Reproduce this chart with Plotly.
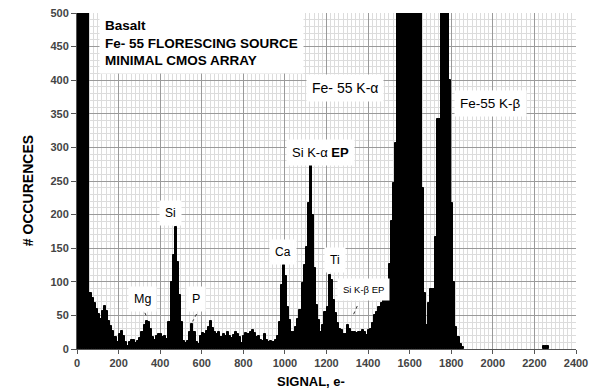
import plotly.graph_objects as go

# Histogram bins (bin start, e-) and counts; bin width 10 e-
bin_width = 10
bin_start = list(range(0, 1860, 10)) + [2240, 2250, 2260]
counts = [
    2500, 2500, 2000, 1500, 1000, 700,
    84, 76, 68, 60, 52, 45, 57, 64, 56, 42, 34, 27, 18, 10,
    22, 27, 19, 10, 5, 11, 14, 14, 9, 12,
    16, 26, 35, 42, 40, 30, 18, 14, 20, 22,
    22, 18, 20, 15, 40, 100, 140, 181, 130, 80,
    40, 12, 9, 12, 25, 37, 25, 10, 8, 20,
    24, 22, 27, 33, 42, 32, 25, 22, 25, 18,
    22, 20, 25, 19, 17, 21, 26, 22, 18, 9,
    19, 24, 22, 25, 28, 24, 18, 20, 14, 12,
    22, 14, 11, 12, 10, 13, 19, 40, 95, 125,
    108, 63, 43, 26, 26, 33, 45, 58, 98, 125,
    152, 217, 274, 200, 120, 65, 43, 26, 35, 55,
    63, 110, 103, 73, 53, 38, 30, 28, 23, 23,
    36, 30, 26, 25, 24, 26, 26, 28, 25, 21,
    28, 30, 38, 50, 55, 62, 69, 78, 89, 100,
    126, 190, 247, 306, 800, 1200, 1500, 1700, 1800, 1800,
    1700, 1500, 1200, 900, 700, 520, 240, 84, 36, 68,
    90, 90, 167, 343, 343, 600, 900, 900, 600, 400,
    217, 100, 33, 18, 8, 3,
    4, 4, 4,
]

x_ticks = [0, 200, 400, 600, 800, 1000, 1200, 1400, 1600, 1800, 2000, 2200, 2400]
y_ticks = [0, 50, 100, 150, 200, 250, 300, 350, 400, 450, 500]

# Peak labels: (text, x, y, font size)
labels = [
    ("Fe- 55 K-α", 1288, 389, 14),
    ("Fe-55 K-β", 1990, 366, 13.5),
    ("Si K-α <b>EP</b>", 1173, 293, 13),
    ("Si", 452, 202, 12),
    ("Ca", 990, 144, 12),
    ("Ti", 1240, 132, 12),
    ("Mg", 317, 74, 12.5),
    ("P", 572, 74, 12.5),
    ("Si K-β EP", 1380, 88, 9.5),
]
# Pointer lines (x0, y0, x1, y1)
pointers = [
    (315, 62, 332, 50),
    (575, 52, 556, 41),
    (1348, 64, 1325, 48),
]

centers = [s + bin_width / 2 for s in bin_start]

fig = go.Figure(go.Bar(
    x=centers, y=counts, width=bin_width,
    marker=dict(color="black", line=dict(width=1, color="black")),
))

font_family = "Liberation Sans, Arial, sans-serif"

fig.update_layout(
    width=590, height=390,
    margin=dict(l=77, r=14, t=13, b=41, autoexpand=False),
    paper_bgcolor="white", plot_bgcolor="white",
    showlegend=False, bargap=0,
    font=dict(family=font_family, color="black"),
)
fig.update_xaxes(
    range=[0, 2400], tickvals=x_ticks, ticks="outside", ticklen=4, tickcolor="#555",
    tickfont=dict(size=11, color="#444", weight="bold"), automargin=False,
    showgrid=True, gridcolor="#9a9a9a", gridwidth=1,
    minor=dict(dtick=20, showgrid=True, gridcolor="#dcdcdc", gridwidth=1),
    showline=True, linecolor="#555", linewidth=1, zeroline=False,
)
fig.update_yaxes(
    range=[0, 500], tickvals=y_ticks, ticks="outside", ticklen=5, tickcolor="#555",
    tickfont=dict(size=11, color="#444", weight="bold"), automargin=False,
    showgrid=True, gridcolor="#9a9a9a", gridwidth=1,
    minor=dict(dtick=10, showgrid=True, gridcolor="#dcdcdc", gridwidth=1),
    showline=True, linecolor="#555", linewidth=1, zeroline=False,
)

annotations = [
    dict(text="Basalt<br>Fe- 55 FLORESCING SOURCE<br>MINIMAL CMOS ARRAY",
         x=106, y=455, xref="x", yref="y", xanchor="left", yanchor="middle",
         align="left", showarrow=False, bgcolor="white", borderpad=5,
         font=dict(size=13.5, color="black", weight="bold", family=font_family)),
    dict(text="# OCCURENCES", xref="paper", yref="paper", x=-0.098, y=0.47,
         textangle=-90, showarrow=False, xanchor="center", yanchor="middle",
         font=dict(size=14, color="black", weight="bold", family=font_family)),
    dict(text="SIGNAL, e-", xref="paper", yref="paper", x=0.469, y=-0.098,
         showarrow=False, xanchor="center", yanchor="middle",
         font=dict(size=13, color="black", weight="bold", family=font_family)),
]
for txt, lx, ly, fs in labels:
    annotations.append(dict(text=txt, x=lx, y=ly, xref="x", yref="y", showarrow=False,
                            bgcolor="white", borderpad=5, xanchor="center", yanchor="middle",
                            font=dict(size=fs, color="black", family=font_family)))
fig.update_layout(annotations=annotations)

for x0, y0, x1, y1 in pointers:
    fig.add_shape(type="line", x0=x0, y0=y0, x1=x1, y1=y1, xref="x", yref="y",
                  line=dict(color="#333", width=1, dash="dot"))

fig.write_html("out.html", config={"displayModeBar": False},
               post_script="document.body.style.margin='0';")
